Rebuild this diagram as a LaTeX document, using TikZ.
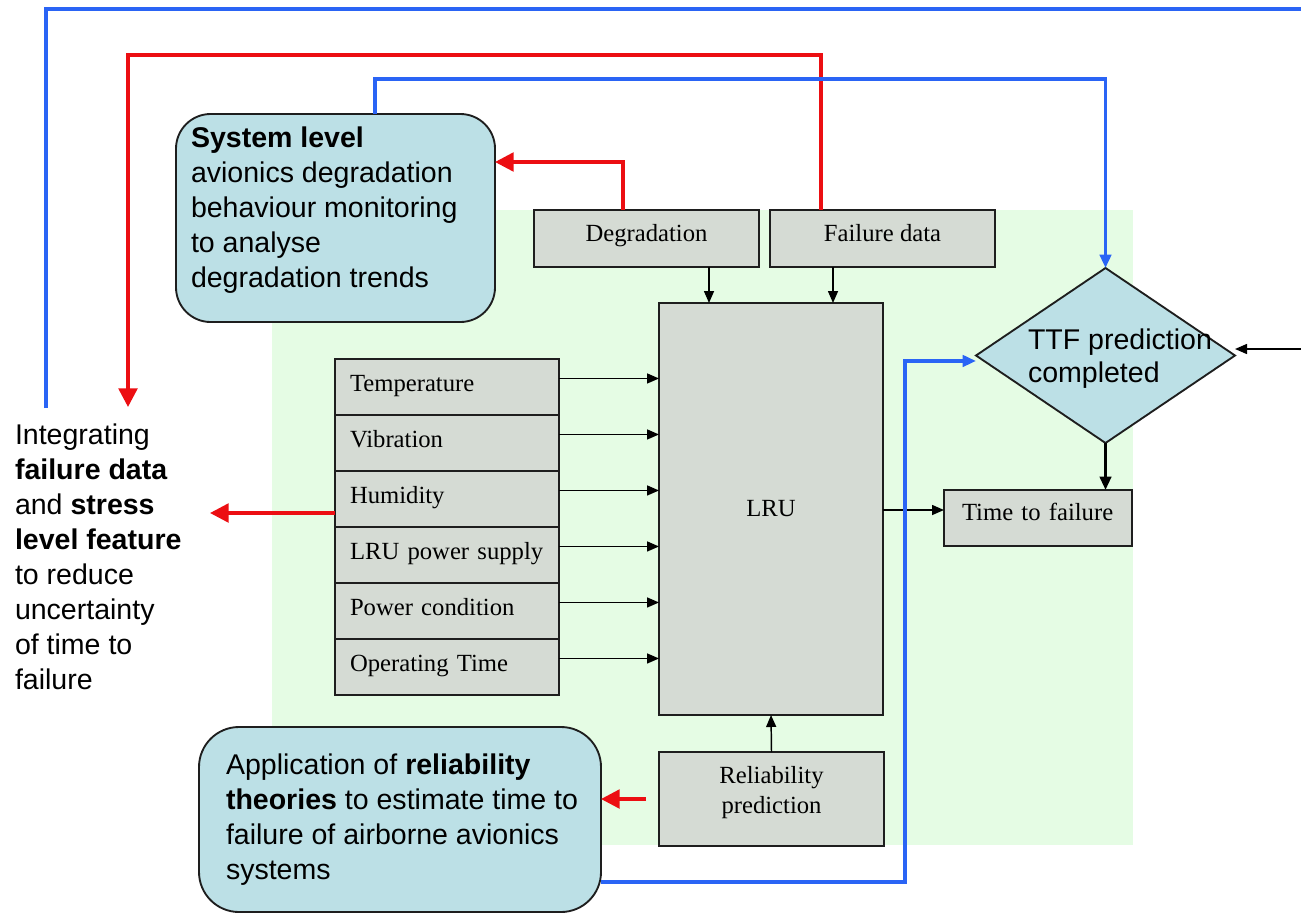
\documentclass[tikz,border=0pt]{standalone}
\usepackage{fontspec}
\setmainfont{Liberation Serif}
\setsansfont{Liberation Sans}
\usetikzlibrary{arrows.meta,shapes.geometric}

\definecolor{linkblue}{RGB}{42,100,245}
\definecolor{linkred}{RGB}{236,14,18}
\definecolor{infoblue}{RGB}{188,224,230}
\definecolor{boxgray}{RGB}{213,219,212}
\definecolor{bggreen}{RGB}{229,252,228}
\definecolor{boxline}{RGB}{30,30,30}

\newcommand\diagsans{\sffamily\fontsize{21.4pt}{26.25pt}\selectfont}
\newcommand\diagsanstight{\sffamily\fontsize{21.4pt}{24.75pt}\selectfont}
\newcommand\diagserif{\rmfamily\fontsize{18.5pt}{22.5pt}\selectfont}

\begin{document}
\begin{tikzpicture}[x=0.75pt,y=-0.75pt,
  every node/.style={inner sep=0pt, outer sep=0pt},
  graybox/.style={draw=boxline, line width=1.4pt, fill=boxgray, font=\diagserif},
  rowbox/.style={graybox, minimum height=42pt, text width=145.5pt, inner xsep=11.25pt,
                 align=left, text height=12pt, text depth=6pt},
  topbox/.style={graybox, minimum width=168.75pt, minimum height=42.75pt,
                 text height=12pt, text depth=8pt},
  roundbox/.style={draw=boxline, line width=1.4pt, fill=infoblue},
  sanstext/.style={font=\diagsans, align=left, anchor=north west},
  blk/.style={draw=black, line width=1.1pt, -{Triangle[length=9pt,width=7.5pt]}},
  blkthick/.style={draw=black, line width=2.3pt, -{Triangle[length=10pt,width=8.5pt]}},
  redarr/.style={draw=linkred, line width=2.6pt, -{Triangle[length=14pt,width=14pt]}},
  bluearr/.style={draw=linkblue, line width=2.6pt, -{Triangle[length=10pt,width=8.5pt]}},
  blueline/.style={draw=linkblue, line width=2.6pt},
]
\useasboundingbox (0,0) rectangle (1301,914);
\fill[white] (0,0) rectangle (1301,914);

% green LRU environment area
\fill[bggreen] (272,210) rectangle (1133,845);

% information boxes
\node[roundbox, rounded corners=26pt, minimum width=239.25pt, minimum height=156pt] (sys) at (335.5,218) {};
\node[roundbox, rounded corners=30pt, minimum width=301.5pt, minimum height=138.75pt] (app) at (400,819.5) {};
\node[diamond, draw=boxline, line width=1.4pt, fill=infoblue,
      minimum width=194.25pt, minimum height=131.25pt] (ttf) at (1105.5,355.5) {};

\node[sanstext] (systext) at (191,127)
  {\textbf{System level}\\avionics degradation\\behaviour monitoring\\to analyse\\degradation trends};
\node[sanstext] (lefttext) at (15,424)
  {Integrating\\\textbf{failure data}\\and \textbf{stress}\\\textbf{level feature}\\to reduce\\uncertainty\\of time to\\failure};
\node[sanstext] (apptext) at (226,754)
  {Application of \textbf{reliability}\\\textbf{theories} to estimate time to\\failure of airborne avionics\\systems};
\node[sanstext, font=\diagsanstight] (ttftext) at (1028,329) {TTF prediction\\completed};

% grey process boxes
\node[topbox] (deg) at (646.5,238.5) {Degradation};
\node[topbox] (fail) at (882.5,238.5) {Failure data};
\node[graybox, minimum width=168pt, minimum height=309pt] (lru) at (771,509) {LRU};
\node[rowbox] (temp)   at (447,387) {Temperature};
\node[rowbox] (vib)    at (447,443) {Vibration};
\node[rowbox] (hum)    at (447,499) {Humidity};
\node[rowbox] (pwr)    at (447,555) {LRU power supply};
\node[rowbox] (pcond)  at (447,611) {Power condition};
\node[rowbox] (optime) at (447,667) {Operating Time};
\node[graybox, minimum height=42pt, text width=114pt, inner xsep=13.5pt, align=left,
      text height=12pt, text depth=9pt] (ttfbox) at (1038,518) {Time to failure};
\node[graybox, minimum width=168.75pt, minimum height=70.5pt] (rel) at (771.5,799) {};
\node[font=\diagserif, align=center] (reltext) at (771.5,793) {Reliability\\prediction};

% free ends and routing levels
\coordinate (outerstart) at (46,408);
\coordinate (outerend) at (1301,9);
\coordinate (rightin) at (1301,349);
\coordinate (redtop) at (0,55);
\coordinate (redend) at (128,407);
\coordinate (bluetop) at (0,79);
\coordinate (degtop) at (0,162);
\coordinate (humend) at (210,513);
\coordinate (bluevert) at (905,0);

\coordinate (failout) at ([xshift=38.25pt]fail.north west);
\coordinate (sysout) at ([xshift=149.25pt]sys.north west);
\coordinate (degout) at ([xshift=66.75pt]deg.north west);
\coordinate (degin) at ([xshift=131.25pt]deg.south west);
\coordinate (failin) at ([xshift=47.25pt]fail.south west);
\coordinate (humout) at ([yshift=-10.5pt]hum.west);
\coordinate (ttfin) at ([yshift=6pt]ttfbox.west);
\coordinate (relout) at ([xshift=-9.75pt]rel.west);
\coordinate (appout) at ([yshift=-46.9pt]app.east);
\coordinate (ttfleft) at ([yshift=-4.1pt]ttf.west);

% feedback loops
\draw[blueline] (outerstart) |- (outerend);
\draw[redarr] (failout) -- (failout |- redtop) -| (redend);
\draw[bluearr] (sysout) -- (sysout |- bluetop) -| (ttf.north);
\draw[redarr] (degout) -- (degout |- degtop) -- (sys.east |- degtop);
\draw[blk] (rightin) -- (ttf.east |- rightin);

% inputs of the LRU
\draw[blk] (degin) -- (degin |- lru.north);
\draw[blk] (failin) -- (failin |- lru.north);
\foreach \r in {temp,vib,hum,pwr,pcond,optime}{
  \coordinate (out-\r) at ([yshift=6.4pt]\r.east);
  \draw[blk] (out-\r) -- (out-\r -| lru.west);
}
\draw[blk] (rel.north) -- (lru.south);

% outputs
\draw[blk] (ttfin -| lru.east) -- (ttfin);
\draw[blkthick] (ttf.south) -- (ttf.south |- ttfbox.north);
\draw[redarr] (humout) -- (humend);
\draw[redarr] (relout) -- (relout -| app.east);
\draw[bluearr] (appout) -- (appout -| bluevert) |- (ttfleft);
\end{tikzpicture}
\end{document}
